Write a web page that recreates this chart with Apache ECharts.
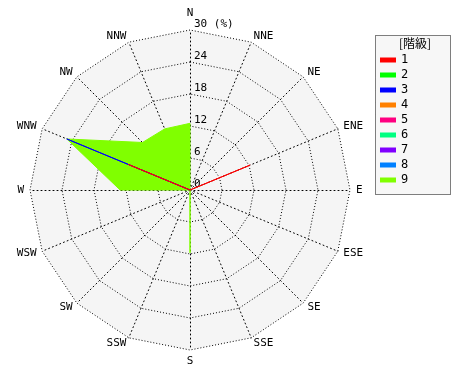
<!DOCTYPE html>
<html><head><meta charset="utf-8">
<script src="https://cdn.jsdelivr.net/npm/echarts@6/dist/echarts.min.js"></script>
<style>html,body{margin:0;padding:0;background:#fff}#c{width:470px;height:380px}</style>
</head><body><div id="c"></div>
<script>
// directions clockwise from north
var directions = ['N','NNE','NE','ENE','E','ESE','SE','SSE','S','SSW','SW','WSW','W','WNW','NW','NNW'];
var levels = ['1','2','3','4','5','6','7','8','9'];
var levelColors = ['#ff0000','#00ff00','#0000ff','#ff8000','#ff0080','#00ff80','#8000ff','#0080ff','#80ff00'];
// frequency (%) per level, clockwise N..NNW
var level1 = [0,0,0,12.2,0,0,0,0,0,0,0,0,0,12.5,0,0];
var level2 = [0,0,0,0,0,0,0,0,0,0,0,0,0,0,0,0];
var level3 = [0,0,0,0,0,0,0,0,0,0,0,0,0,25,0,0];
var level4 = [0,0,0,0,0,0,0,0,0,0,0,0,0,0,0,0];
var level5 = [0,0,0,0,0,0,0,0,0,0,0,0,0,0,0,0];
var level6 = [0,0,0,0,0,0,0,0,0,0,0,0,0,0,0,0];
var level7 = [0,0,0,0,0,0,0,0,0,0,0,0,0,0,0,0];
var level8 = [0,0,0,0,0,0,0,0,0,0,0,0,0,0,0,0];
var level9 = [12.5,0,0,0,0,0,0,0,11.8,0,0,0,13.1,25,12.6,12.4];
var radialMax = 30;
var radialStep = 6;

var levelData = [level1,level2,level3,level4,level5,level6,level7,level8,level9];
// radar lays indicators counter-clockwise; reorder to clockwise
function toRadarOrder(arr){ var r=[arr[0]]; for(var i=arr.length-1;i>=1;i--) r.push(arr[i]); return r; }
var radarDirs = toRadarOrder(directions);
var font = 'DejaVu Sans Mono';

var indicator = radarDirs.map(function(d,i){
  var o = {name:d, min:0, max:radialMax};
  if(i===0){ o.axisLabel = {show:true}; }
  return o;
});

var series = [];
for (var k = levels.length-1; k >= 0; k--) {
  var s = {
    name: levels[k], type:'radar', symbol:'none', silent:true,
    itemStyle:{color:levelColors[k]},
    lineStyle:{color:levelColors[k], width:1},
    data:[{value: toRadarOrder(levelData[k]), name: levels[k]}]
  };
  if (k === 8) { s.areaStyle = {color: levelColors[k], opacity: 1}; }
  series.push(s);
}

var chart = echarts.init(document.getElementById('c'), null, {renderer:'canvas'});
chart.setOption({
  animation:false,
  backgroundColor:'#fff',
  radar:{
    center:[190,190], radius:160, startAngle:90, shape:'polygon', splitNumber: radialMax/radialStep,
    indicator: indicator,
    axisName:{color:'#000', fontFamily:font, fontSize:11},
    nameGap:6,
    splitArea:{show:true, areaStyle:{color:['#f5f5f5']}},
    splitLine:{lineStyle:{color:'#000', width:1, type:[1,2]}},
    axisLine:{lineStyle:{color:'#000', width:1, type:[1,3]}},
    axisLabel:{show:false, color:'#000', fontFamily:font, fontSize:11, margin:-4, align:'left', verticalAlign:'bottom',
      formatter:function(v){ return v===radialMax ? v+' (%)' : String(v); }}
  },
  legend:{
    data: levels, orient:'vertical', left:380, top:53, padding:0,
    itemWidth:16, itemHeight:5, itemGap:1, icon:'rect',
    textStyle:{color:'#000', fontFamily:font, fontSize:12, lineHeight:14}
  },
  graphic:[
    {type:'rect', z:-1, shape:{x:375.5,y:35.5,width:75,height:159},
     style:{fill:'#f7f7f7', stroke:'#000', lineWidth:1, lineDash:[1,1]}},
    {type:'text', left:399, top:37, style:{text:'[階級]', font:'12px "Noto Sans CJK JP"', fill:'#000'}}
  ],
  series: series
});
</script></body></html>
